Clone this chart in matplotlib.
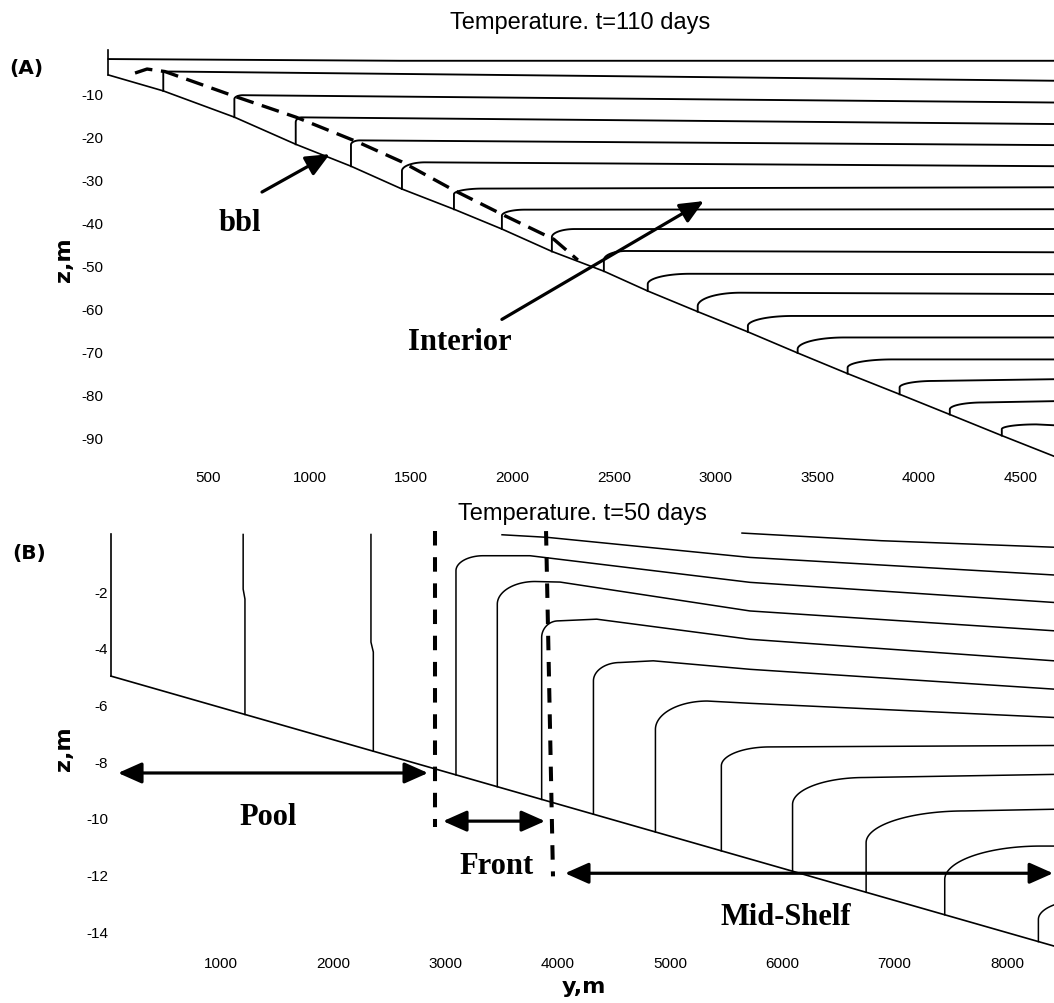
import numpy as np
import matplotlib
matplotlib.use("Agg")
import matplotlib.pyplot as plt
from matplotlib import font_manager

# ---------------------------------------------------------------------------
# Panel A: temperature section after 110 days (y in m offshore, z in m)
# ---------------------------------------------------------------------------
a_xticks = [500, 1000, 1500, 2000, 2500, 3000, 3500, 4000, 4500]
a_yticks = [-10, -20, -30, -40, -50, -60, -70, -80, -90]

# bathymetry
a_bottom_y = [10, 280, 630, 932, 1204, 1455, 1711, 1947, 2193, 2449, 2665,
              2911, 3158, 3403, 3649, 3905, 4152, 4408, 4665]
a_bottom_z = [-5.8, -9.5, -15.6, -21.9, -27.0, -32.3, -37.0, -41.6, -46.8,
              -51.4, -56.0, -60.8, -65.5, -70.4, -75.2, -80.0, -84.7, -89.6,
              -94.4]

# uppermost isotherm, which never reaches the bottom
a_top_y = [10, 1445, 4665]
a_top_z = [-2.1, -2.5, -2.5]

# isotherms that bend down into the bottom boundary layer
a_knee_y = [280, 630, 932, 1204, 1455, 1711, 1947, 2193, 2449, 2665, 2911,
            3158, 3403, 3649, 3905, 4152, 4408]
a_knee_top_z = [-5.2, -11.4, -16.8, -22.0, -28.1, -33.5, -38.5, -43.5, -48.8,
                -54.4, -59.5, -64.1, -69.5, -73.8, -78.4, -83.5, -88.1]
a_bend_y = [313, 672, 961, 1248, 1568, 1853, 2060, 2306, 2560, 2872, 3121,
            3378, 3633, 3869, 4075, 4317, 4578]
a_bend_z = [-5.0, -10.5, -15.65, -21.0, -26.1, -32.2, -37.1, -41.6, -46.7,
            -52.0, -56.4, -61.8, -66.8, -71.9, -76.9, -81.9, -87.0]
a_edge_y = 4665
a_edge_z = [-7.14, -12.2, -17.2, -22.1, -27.0, -31.9, -37.0, -41.6, -47.0,
            -52.1, -56.7, -61.8, -66.8, -71.9, -76.5, -81.6, -87.2]

# top of the bottom boundary layer
a_bbl_y = [141, 200, 288, 628, 933, 1238, 1455, 1711, 1957, 2203, 2321]
a_bbl_z = [-5.35, -4.42, -5.0, -10.7, -15.6, -21.4, -26.0, -32.6, -38.4,
           -44.0, -48.8]

# ---------------------------------------------------------------------------
# Panel B: temperature section after 50 days
# ---------------------------------------------------------------------------
b_xticks = [1000, 2000, 3000, 4000, 5000, 6000, 7000, 8000]
b_yticks = [-2, -4, -6, -8, -10, -12, -14]
b_tick_marks = [-2, -4]

b_bottom_y = [22, 8419]
b_bottom_z = [-5.0, -14.53]

# vertical isotherms over the pool
b_pool_y_top = [1199, 2337]
b_pool_y_bot = [1215, 2358]
b_pool_kink_z = [-1.93, -3.8]

# isotherms that start at the surface
b_surf1_y = [5641, 6882, 8419]
b_surf1_z = [0.05, -0.22, -0.45]
b_surf2_y = [3504, 3904, 5712, 8419]
b_surf2_z = [-0.01, -0.10, -0.81, -1.43]

# isotherms rising from the bottom
b_knee_y = [3094, 3462, 3857, 4318, 4870, 5457, 6091, 6746, 7446, 8280]
b_knee_top_z = [-1.28, -2.46, -3.64, -5.17, -6.88, -8.17, -9.53, -10.88,
                -12.18, -13.59]
b_bend_y = [3337, 3798, 4005, 4555, 5332, 5890, 6731, 7625, 8300, 8700]
b_bend_z = [-0.75, -1.66, -3.05, -4.52, -5.88, -7.50, -8.58, -9.76, -11.0,
            -12.9]
b_flat_y = [3753, 4021, 4347, 4851, np.nan, np.nan, np.nan, np.nan, np.nan,
            np.nan]
b_flat_z = [-0.75, -1.68, -2.99, -4.46, np.nan, np.nan, np.nan, np.nan,
            np.nan, np.nan]
b_mid_y = 5712
b_mid_z = [-1.69, -2.70, -3.70, -4.76, -5.96, np.nan, np.nan, np.nan, np.nan,
           np.nan]
b_edge_y = 8419
b_edge_z = [-2.40, -3.40, -4.46, -5.46, -6.46, -7.45, -8.47, -9.70, -11.0,
            np.nan]

# boundaries of the front
b_front_y_top = [2907, 3896]
b_front_y_bot = [2907, 3958]
b_front_z_top = [0.12, 0.12]
b_front_z_bot = [-10.34, -12.07]

# ---------------------------------------------------------------------------
installed = {f.name for f in font_manager.fontManager.ttflist}
if "Liberation Sans Narrow" in installed:
    tick_font = dict(family="Liberation Sans Narrow", size=12)
else:
    tick_font = dict(family="Liberation Sans", size=11)
SANS = "Liberation Sans"
SERIF = "Liberation Serif"

W, H = 1054, 1004
fig = plt.figure(figsize=(W / 100, H / 100), dpi=100)


def px_axes(left, top, right, bottom):
    return fig.add_axes([left / W, 1 - bottom / H, (right - left) / W,
                         (bottom - top) / H])


def isotherm(knee_y, knee_top_z, bend_y, bend_z, nodes_y, nodes_z,
             bottom_y, bottom_z):
    """Vertical rise from the bottom, rounded bend, then interior nodes."""
    zb = float(np.interp(knee_y, bottom_y, bottom_z))
    t = np.linspace(0, np.pi / 2, 40)
    arc_y = bend_y - (bend_y - knee_y) * np.cos(t)
    arc_z = knee_top_z + (bend_z - knee_top_z) * np.sin(t)
    ys = [knee_y] + list(arc_y)
    zs = [zb] + list(arc_z)
    for y, z in zip(nodes_y, nodes_z):
        if np.isfinite(y) and np.isfinite(z) and y > ys[-1]:
            ys.append(y)
            zs.append(z)
    return ys, zs


def style_axes(ax, xticks, yticks, xpad, ypad):
    for s in ax.spines.values():
        s.set_visible(False)
    ax.set_xticks(xticks)
    ax.set_yticks(yticks)
    ax.set_xticklabels([str(v) for v in xticks], **tick_font)
    ax.set_yticklabels([str(v) for v in yticks], **tick_font)
    ax.tick_params(axis="x", length=0, pad=xpad)
    ax.tick_params(axis="y", length=0, pad=ypad)


arrow_kw = dict(color="black", lw=2.3, shrinkA=0, shrinkB=0)

# ----------------------------- panel A ------------------------------------
axA = px_axes(106.4, 40, 1054, 468)
axA.set_xlim(0, 4665)
axA.set_ylim(-96.9, 2.56)
style_axes(axA, a_xticks, a_yticks, xpad=2.5, ypad=2.4)

lwA = 1.35
axA.plot(a_bottom_y, a_bottom_z, color="black", lw=1.2)
axA.plot([a_bottom_y[0], a_bottom_y[0]], [0, a_bottom_z[0]], color="black",
         lw=1.2)
axA.plot(a_top_y, a_top_z, color="black", lw=lwA)
for i in range(len(a_knee_y)):
    ys, zs = isotherm(a_knee_y[i], a_knee_top_z[i], a_bend_y[i], a_bend_z[i],
                      [a_edge_y], [a_edge_z[i]], a_bottom_y, a_bottom_z)
    axA.plot(ys, zs, color="black", lw=lwA, solid_joinstyle="round")

axA.plot(a_bbl_y, a_bbl_z, color="black", lw=2.4, ls=(0, (5.4, 2.6)),
         dash_capstyle="butt")

axA.annotate("", xy=(1100, -24.2), xytext=(766, -33.0),
             arrowprops=dict(arrowstyle="-|>,head_length=0.9,head_width=0.4",
                             mutation_scale=16, **arrow_kw))
axA.annotate("", xy=(2941, -35.1), xytext=(1947, -62.6),
             arrowprops=dict(arrowstyle="-|>,head_length=0.9,head_width=0.4",
                             mutation_scale=16, **arrow_kw))
axA.text(657, -40.0, "bbl", family=SERIF, weight="bold", fontsize=22,
         ha="center", va="center")
axA.text(1740, -67.7, "Interior", family=SERIF, weight="bold", fontsize=22,
         ha="center", va="center")

# ----------------------------- panel B ------------------------------------
axB = px_axes(108.5, 525, 1054, 953)
axB.set_xlim(0, 8419)
axB.set_ylim(-14.74, 0.37)
style_axes(axB, b_xticks, b_yticks, xpad=3.0, ypad=0.3)
axB.set_yticks(b_tick_marks, minor=True)
axB.tick_params(axis="y", which="minor", direction="in", length=6.5,
                width=1.0, left=True)

lwB = 1.1
axB.plot(b_bottom_y, b_bottom_z, color="black", lw=1.2)
axB.plot([b_bottom_y[0], b_bottom_y[0]], [0, b_bottom_z[0]], color="black",
         lw=1.2)
for yt, yb, zk in zip(b_pool_y_top, b_pool_y_bot, b_pool_kink_z):
    zb = float(np.interp(yb, b_bottom_y, b_bottom_z))
    axB.plot([yt, yt, yb, yb], [0, zk, zk - 0.35, zb], color="black",
             lw=lwB)

axB.plot(b_surf1_y, b_surf1_z, color="black", lw=lwB)
axB.plot(b_surf2_y, b_surf2_z, color="black", lw=lwB)
for i in range(len(b_knee_y)):
    ys, zs = isotherm(b_knee_y[i], b_knee_top_z[i], b_bend_y[i], b_bend_z[i],
                      [b_flat_y[i], b_mid_y, b_edge_y],
                      [b_flat_z[i], b_mid_z[i], b_edge_z[i]],
                      b_bottom_y, b_bottom_z)
    axB.plot(ys, zs, color="black", lw=lwB, solid_joinstyle="round")

for yt, yb, zt, zb in zip(b_front_y_top, b_front_y_bot, b_front_z_top,
                          b_front_z_bot):
    axB.plot([yt, yb], [zt, zb], color="black", lw=2.9, ls=(0, (3.6, 2.9)),
             dash_capstyle="butt")

dbl = dict(arrowstyle="<|-|>,head_length=0.9,head_width=0.4",
           mutation_scale=16, **arrow_kw)
axB.annotate("", xy=(2845, -8.42), xytext=(85, -8.42), arrowprops=dbl)
axB.annotate("", xy=(3887, -10.12), xytext=(2979, -10.12), arrowprops=dbl)
axB.annotate("", xy=(8411, -11.96), xytext=(4065, -11.96), arrowprops=dbl,
             annotation_clip=False)
axB.text(1420, -9.94, "Pool", family=SERIF, weight="bold", fontsize=22,
         ha="center", va="center")
axB.text(3451, -11.67, "Front", family=SERIF, weight="bold", fontsize=22,
         ha="center", va="center")
axB.text(6033, -13.48, "Mid-Shelf", family=SERIF, weight="bold", fontsize=22,
         ha="center", va="center")

# ----------------------------- figure text --------------------------------
def ftext(x, y, s, **kw):
    fig.text(x / W, 1 - y / H, s, ha="center", va="center", **kw)


ftext(580, 23, "Temperature. t=110 days", family=SANS, fontsize=17)
ftext(582, 514, "Temperature. t=50 days", family=SANS, fontsize=17)
ftext(26, 69, "(A)", family="DejaVu Sans", weight="bold", fontsize=14.5)
ftext(29, 554, "(B)", family="DejaVu Sans", weight="bold", fontsize=14.5)
ftext(64, 260, "z,m", family="DejaVu Sans", weight="bold", fontsize=16,
      rotation=90)
ftext(64, 749, "z,m", family="DejaVu Sans", weight="bold", fontsize=16,
      rotation=90)
ftext(584, 987, "y,m", family="DejaVu Sans", weight="bold", fontsize=16)

fig.savefig("out.png", dpi=100)
